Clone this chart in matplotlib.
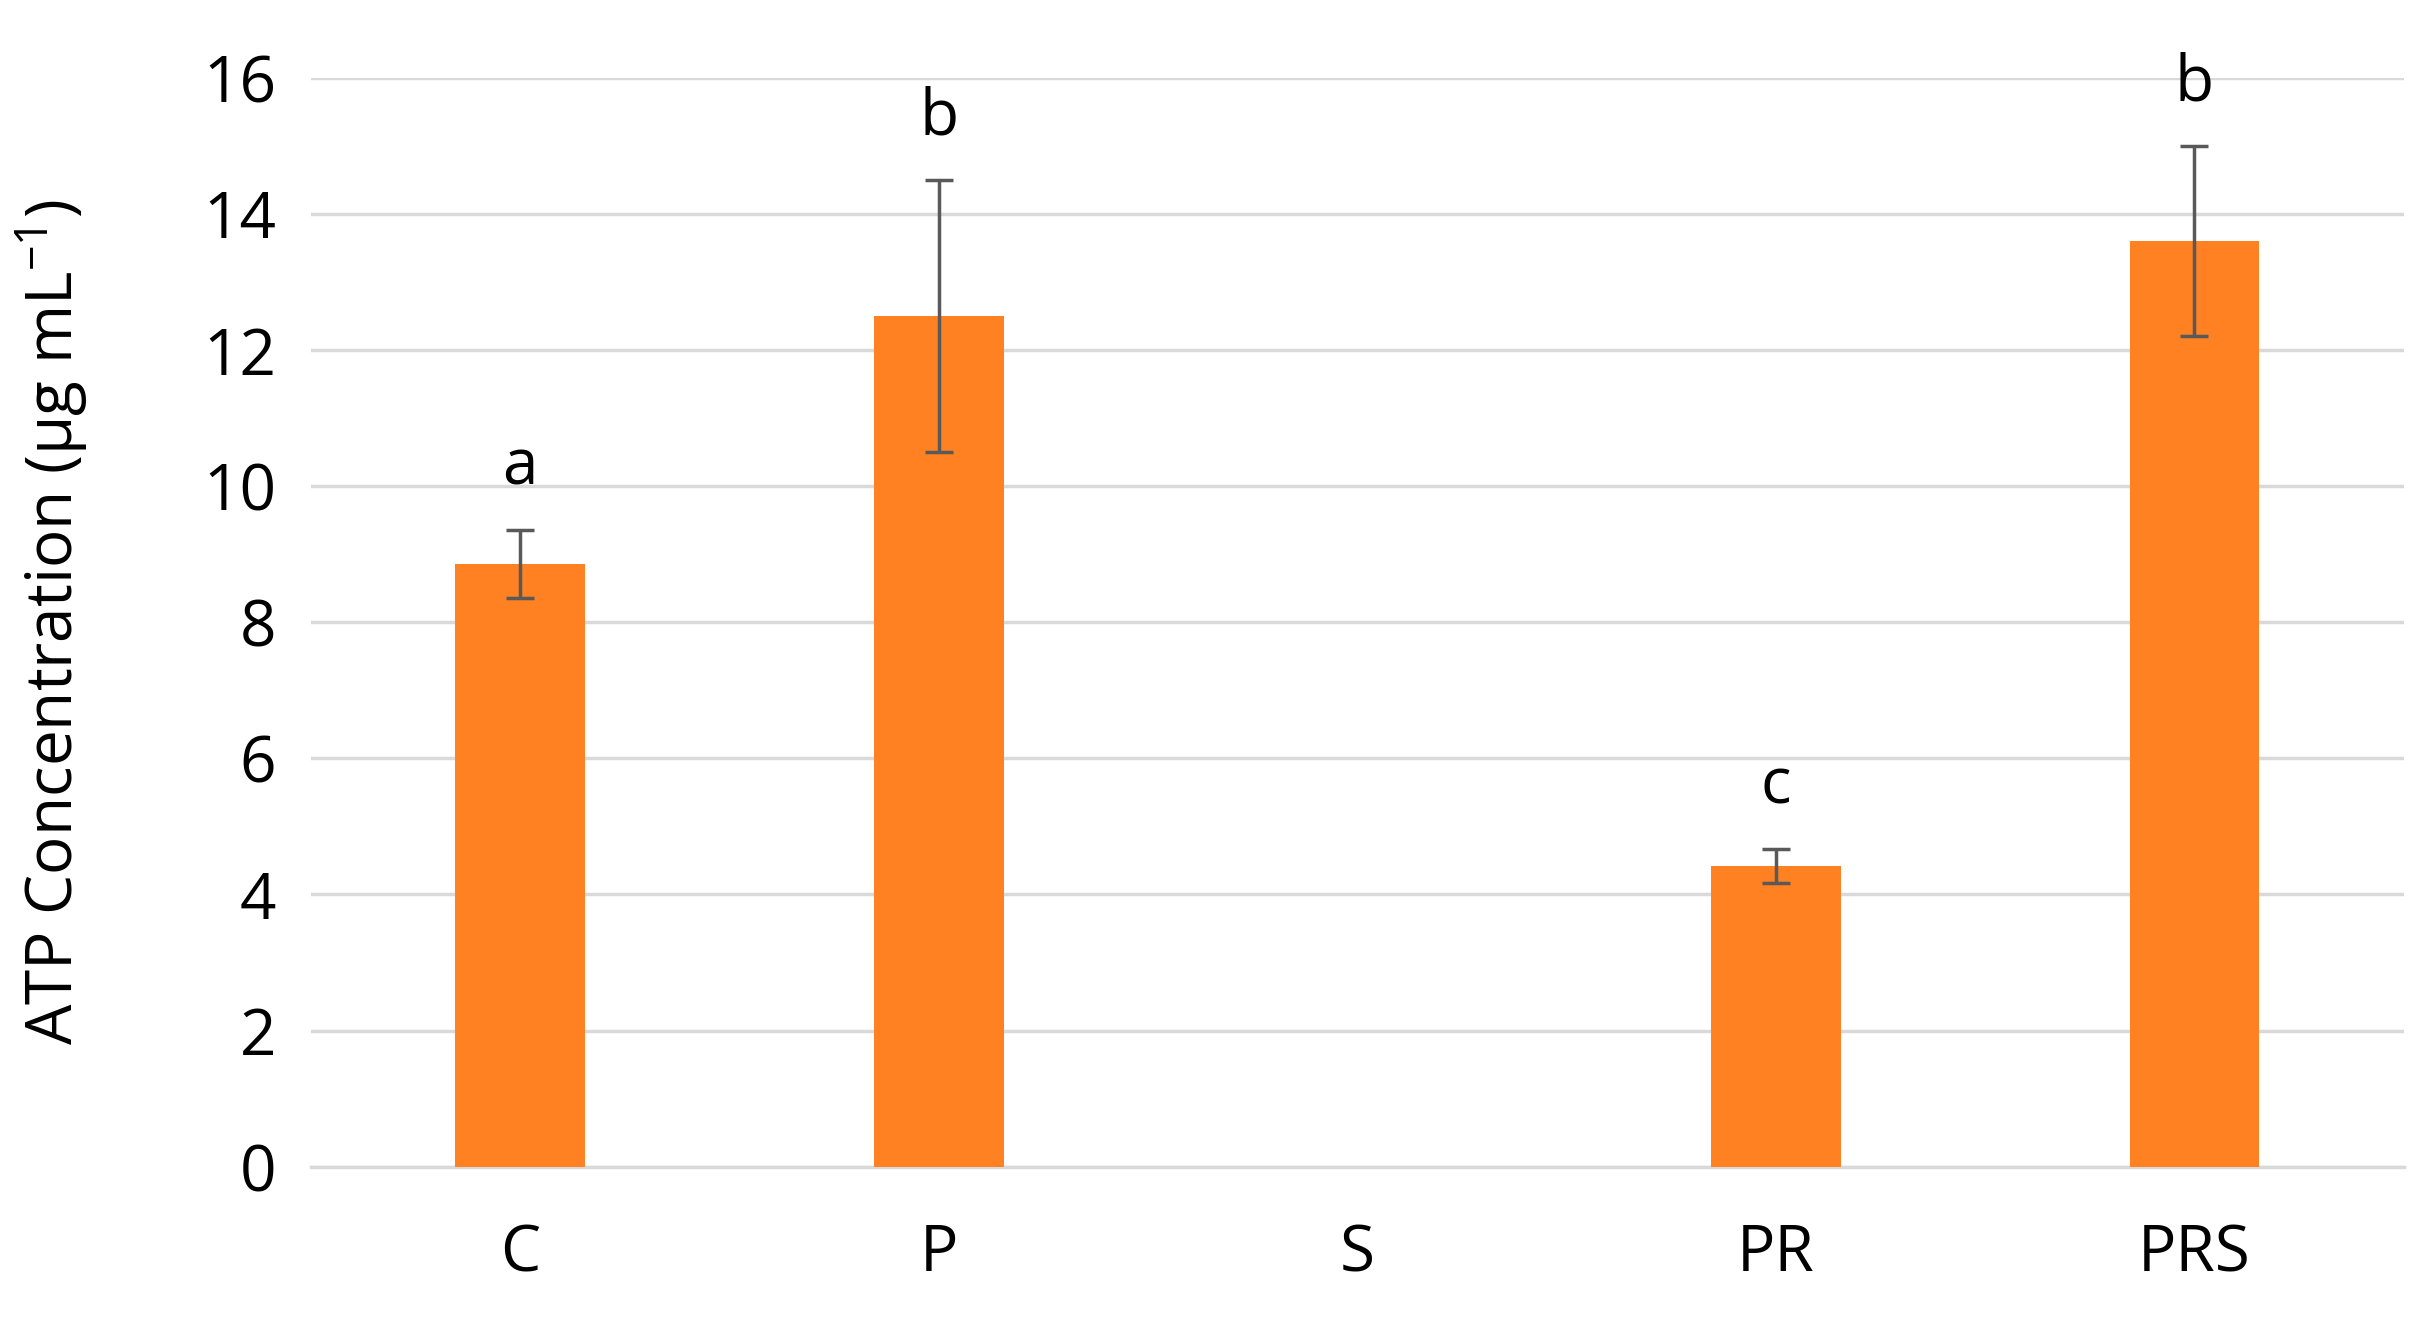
import numpy as np
import matplotlib
matplotlib.use('Agg')
import matplotlib.pyplot as plt

groups = ['C', 'P', 'S', 'PR', 'PRS']
atp = [8.85, 12.5, 0.0, 4.42, 13.6]
err = [0.5, 2.0, 0.0, 0.25, 1.4]
letters = ['a', 'b', '', 'c', 'b']

plt.rcParams['font.family'] = ['Open Sans', 'DejaVu Sans']

fig = plt.figure(figsize=(24.28, 13.41), dpi=100)
ax = fig.add_axes([0.128, 0.13, 0.862, 0.812])

x = np.arange(len(groups))
ax.bar(x, atp, width=0.31, color='#FF8122', zorder=3)
for xi, v, e in zip(x, atp, err):
    if v > 0:
        ax.errorbar(xi, v, yerr=e, color='#595959', capsize=10, elinewidth=2.5,
                    capthick=2.5, zorder=4)
for xi, v, e, t in zip(x, atp, err, letters):
    if t:
        ax.text(xi, v + e + 0.45, t, ha='center', va='bottom', fontsize=46)

ax.set_ylim(0, 16)
ax.set_xlim(-0.5, 4.5)
ax.set_yticks(range(0, 17, 2))
ax.set_xticks(x)
ax.set_xticklabels(groups)
ax.tick_params(axis='both', length=0, labelsize=46)
ax.tick_params(axis='x', pad=40)
ax.tick_params(axis='y', pad=25)
ax.yaxis.grid(True, color='#D9D9D9', linewidth=2.5, zorder=0)
for s in ['top', 'right', 'left']:
    ax.spines[s].set_visible(False)
ax.spines['bottom'].set_color('#D9D9D9')
ax.spines['bottom'].set_linewidth(2.5)
ax.set_ylabel('ATP Concentration (µg mL$^{\\mathregular{-1}}$)', fontsize=46, labelpad=25)
ax.yaxis.set_label_coords(-0.105, 0.5)

fig.savefig('out.png', dpi=100)
